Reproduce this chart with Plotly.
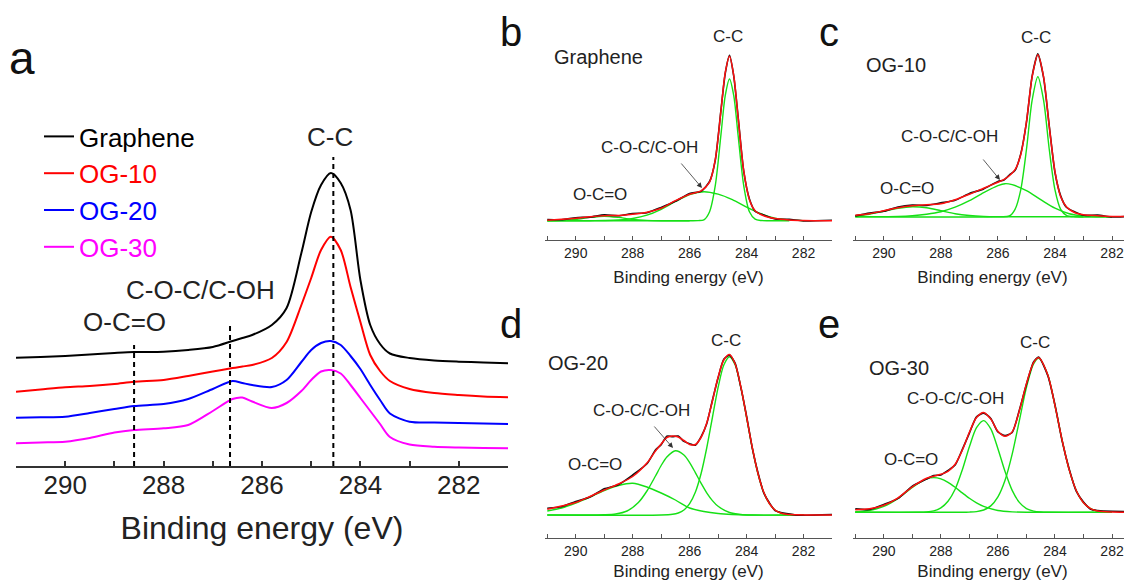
import plotly.graph_objects as go

# The page body has an 8 px margin, so the figure is drawn 8 px smaller and all
# pixel positions below are given in window coordinates and shifted by OFF.
OFF = 8
W, H = 1132 - OFF, 581 - OFF
FONT = "Liberation Sans, Arial, sans-serif"

# ---------------- Panel a: stacked C1s spectra ----------------
x_a = [291, 290.5, 290, 289.5, 289, 288.6, 288, 287.5, 287, 286.6, 286.4, 286.2, 285.8, 285.5,
       285.2, 285.0, 284.8, 284.6, 284.4, 284.2, 284.0, 283.8, 283.6, 283.4, 283.0, 282.5, 282, 281.5, 281]
graphene_a = [108.3, 109, 110, 111.5, 113, 114, 114.3, 116, 119, 125, 128, 131, 141, 158,
              213, 254, 281, 293, 283, 256, 186, 141, 122, 112.5, 108, 105.5, 104.3, 103.5, 102.7]
og10_a = [74.3, 76.5, 78.7, 80, 82, 84.3, 86, 90, 94.5, 98, 99.5, 101, 108, 124,
          161, 188, 216, 229.3, 216, 179, 144, 111, 95, 85, 77, 73, 71, 69.5, 68.7]
og20_a = [48.3, 48.7, 49.3, 53, 57, 60, 62, 67, 77, 85, 83, 81, 79, 86,
          104, 116, 123, 125, 121, 110, 97, 81, 66, 52.5, 44.3, 43.5, 43, 42.5, 42]
og30_a = [22.7, 23.5, 24.3, 28, 33.5, 36, 37.7, 41, 55, 67, 68.5, 64.5, 58, 63,
          75, 86, 94.5, 96, 92.5, 81, 68, 55, 42, 29, 21.5, 19.3, 18.5, 18, 17.7]
series_names = ["Graphene", "OG-10", "OG-20", "OG-30"]
series_colors = ["#000000", "#ff0000", "#0000ff", "#ff00ff"]
peak_positions = [288.6, 286.65, 284.55]
peak_line_tops = [121, 143, 309]
peak_labels = ["O-C=O", "C-O-C/C-OH", "C-C"]

# ---------------- Panel b: Graphene fit ----------------
x_b = [291, 290.5, 290, 289.5, 289, 288.5, 288, 287.5, 287, 286.5, 286, 285.6, 285.3, 285.1,
       284.9, 284.75, 284.6, 284.45, 284.3, 284.1, 283.9, 283.7, 283.4, 283.0, 282.5, 282, 281]
fit_b = [0.5, 1.5, 2.5, 4, 5, 5.3, 6.5, 8.5, 12.5, 20, 26.5, 29.8, 38.5, 61,
         110, 148, 164.5, 145, 104, 50, 21, 10, 5, 2.2, 0.8, 0.3, 0]
raw_b = [1.2, 1.0, 3.0, 3.6, 5.8, 4.9, 7.2, 8.0, 13.3, 19.4, 27.2, 29.3, 39.2, 60.3,
         110.6, 147.2, 165.3, 144.4, 104.7, 49.3, 21.8, 9.5, 5.6, 1.7, 1.3, -0.2, 0.5]
cc_b_x = [291, 286.0, 285.7, 285.5, 285.3, 285.1, 284.9, 284.75, 284.6, 284.45, 284.3, 284.1,
          283.9, 283.7, 283.5, 283.2, 282.5]
cc_b_y = [0, 0, 0.1, 0.8, 9, 35, 86, 125, 141.7, 125, 86, 35, 9, 1.6, 0.2, 0, 0]
coc_b_x = [291, 289.5, 289, 288.5, 288, 287.5, 287, 286.5, 286, 285.5, 285, 284.5, 284, 283.5,
           283, 282.5, 282]
coc_b_y = [0, 0, 0.2, 0.7, 2.2, 5.5, 11.4, 19.2, 26.2, 29, 26.5, 21, 13.5, 7, 2.5, 0.8, 0]
oco_b_x = [291, 290.5, 290, 289.5, 289, 288.5, 288, 287.5, 287, 286]
oco_b_y = [0, 0.3, 1.3, 3.3, 4.5, 3.3, 1.3, 0.3, 0, 0]

# ---------------- Panel c: OG-10 fit ----------------
x_c = [291, 290.5, 290, 289.5, 289, 288.5, 288, 287.5, 287, 286.5, 286, 285.8, 285.6, 285.4,
       285.2, 285.0, 284.8, 284.6, 284.4, 284.2, 284.0, 283.8, 283.6, 283.3, 283.0, 282.5, 282, 281.3]
fit_c = [1.5, 3, 6, 9, 11, 12, 13, 17, 22.5, 28.5, 34.5, 37, 41, 47,
         62, 95, 140, 162, 140, 90, 45, 20, 10, 4, 2, 1, 0.3, 0]
raw_c = [0.8, 3.6, 5.4, 9.7, 11.6, 11.3, 13.8, 16.4, 23.2, 27.8, 35.3, 36.5, 41.7, 46.3,
         62.8, 94.2, 140.6, 162.8, 139.3, 90.7, 44.2, 20.8, 9.4, 4.7, 1.4, 1.6, -0.3, 0.6]
cc_c_x = [291, 286.0, 285.6, 285.4, 285.2, 285.0, 284.8, 284.6, 284.4, 284.2, 284.0, 283.8,
          283.6, 283.3, 282]
cc_c_y = [0, 0, 0.7, 7.4, 26.9, 67.2, 116.6, 140, 116.6, 67.2, 26.9, 7.4, 1.4, 0, 0]
coc_c_x = [291, 289.5, 289, 288.5, 288, 287.5, 287, 286.5, 286, 285.75, 285.5, 285.0, 284.5,
           284.0, 283.5, 283.0, 282.5, 282]
coc_c_y = [0, 0.3, 1, 2.5, 5, 9.5, 16, 24, 31, 33, 32, 26, 17, 8.5, 3, 0.8, 0.2, 0]
oco_c_x = [291, 290.5, 290, 289.5, 289, 288.5, 288, 287.5, 287, 286.5, 286, 283]
oco_c_y = [1, 2.5, 5.5, 8.5, 10, 9, 6, 3, 1.2, 0.3, 0, 0]

# ---------------- Panel d: OG-20 fit ----------------
x_d = [291, 290.5, 290, 289.5, 289, 288.5, 288, 287.5, 287.2, 287.0, 286.8, 286.6, 286.4, 286.2,
       286.0, 285.8, 285.6, 285.4, 285.2, 285.0, 284.8, 284.6, 284.4, 284.2, 284.0, 283.8, 283.6,
       283.4, 283.2, 283.0, 282.8, 282.6, 282.2, 281]
fit_d = [5.7, 9, 12.5, 18.5, 25, 31, 38.5, 52, 64, 71, 77.5, 79, 78, 74.5,
         70.5, 70.5, 77.5, 92, 114, 138, 155, 160.5, 151, 128, 98, 67.5, 41.5,
         23, 11.5, 5, 2, 0.8, 0.3, 0]
raw_d = [6.8, 8.2, 13.5, 18.0, 26.2, 30.3, 40.0, 51.2, 65.0, 70.3, 78.8, 78.4, 78.9, 73.6,
         71.3, 69.8, 78.2, 91.3, 114.8, 137.2, 155.7, 159.9, 151.6, 127.3, 98.8, 66.9, 42.2,
         22.4, 12.2, 4.4, 2.6, 1.4, -0.2, 0.4]
cc_d_x = [291, 287.0, 286.6, 286.4, 286.2, 286.0, 285.8, 285.6, 285.4, 285.2, 285.0, 284.8,
          284.6, 284.4, 284.2, 284.0, 283.8, 283.6, 283.4, 283.2, 283.0, 282.8, 282.6, 282.4, 282]
cc_d_y = [0, 0, 0.7, 2, 5, 11.3, 22.7, 41.2, 67, 97.5, 127.6, 150,
          158.3, 150, 127.6, 97.5, 67, 41.2, 22.7, 11.3, 5, 2, 0.7, 0.2, 0]
coc_d_x = [291, 289.4, 289.0, 288.6, 288.2, 287.8, 287.5, 287.2, 287.0, 286.8, 286.5, 286.2,
           286.0, 285.8, 285.6, 285.4, 285.2, 285.0, 284.6, 284.2, 283.8, 282]
coc_d_y = [0, 0, 0.2, 1, 4, 12.5, 24, 39, 49.5, 58, 64.3, 60,
           52.4, 42.4, 31.9, 22.2, 14.4, 8.7, 2.5, 0.5, 0, 0]
oco_d_x = [291, 290.5, 290, 289.5, 289, 288.5, 288, 287.5, 287, 286.5, 286, 285.5, 285,
           284.5, 284, 282]
oco_d_y = [4, 7, 12, 18, 24.5, 29.5, 31.7, 28, 22, 15, 7, 3.5, 1.5, 0.5, 0, 0]

# ---------------- Panel e: OG-30 fit ----------------
x_e = [291, 290.5, 290, 289.5, 289, 288.5, 288.25, 288, 287.75, 287.5, 287.25, 287.0, 286.75,
       286.5, 286.25, 286.0, 285.75, 285.5, 285.25, 285.0, 284.75, 284.57, 284.25, 284.0,
       283.75, 283.5, 283.25, 283.0, 282.75, 282.5, 282.0, 281.3]
fit_e = [2.5, 3.5, 7, 14.5, 25.5, 34, 36, 38, 41, 48, 62, 80, 94.7,
         99.9, 93.2, 81, 76, 80.4, 101.4, 128.7, 149.7, 154.5, 137.2, 106.7,
         72.2, 42.4, 21.6, 9.6, 3.7, 1.2, 0.2, 0]
raw_e = [3.4, 2.8, 7.8, 13.9, 26.1, 33.2, 36.8, 37.4, 41.9, 47.3, 62.7, 79.2, 95.4,
         99.2, 93.9, 80.3, 76.7, 79.8, 102.1, 128.0, 150.4, 155.3, 136.5, 107.4,
         71.5, 43.1, 20.9, 10.3, 3.1, 1.8, 1.0, 0.8]
cc_e_x = [291, 287.25, 287.0, 286.75, 286.5, 286.25, 286.0, 285.75, 285.5, 285.25, 285.0,
          284.75, 284.57, 284.25, 284.0, 283.75, 283.5, 283.25, 283.0, 282.75, 282.5, 282.0]
cc_e_y = [0, 0, 0.2, 0.7, 2.3, 6.4, 15.4, 32, 58.1, 91.5, 125,
          148.5, 154, 137.2, 106.7, 72.2, 42.4, 21.6, 9.6, 3.7, 1.2, 0.1]
coc_e_x = [291, 288.75, 288.5, 288.25, 288, 287.75, 287.5, 287.25, 287.0, 286.75, 286.5,
           286.25, 286.0, 285.75, 285.5, 285.25, 285.0, 284.75, 284.5, 284.25, 282]
coc_e_y = [0, 0, 0.3, 1.4, 4.4, 11, 23, 42.3, 65.5, 84.6, 91.7,
           83.4, 63.6, 40.7, 21.9, 9.9, 3.7, 1.2, 0.3, 0, 0]
oco_e_x = [291, 290.5, 290, 289.5, 289, 288.5, 288.25, 288, 287.75, 287.5, 287.25, 287.0,
           286.75, 286.5, 286.0, 285.5, 285.0, 282]
oco_e_y = [0.5, 1.8, 5.9, 14, 25, 33.5, 34.7, 33.5, 30, 25, 19.4, 14,
           9.4, 5.9, 1.8, 0.4, 0, 0]

tick_vals = [290, 288, 286, 284, 282]
tick_text = ["290", "288", "286", "284", "282"]
axis_title = "Binding energy (eV)"

# ---------------- helpers (layout only) ----------------
def fx(p):
    return (p - OFF) / W

def fy(p):
    return 1 - (p - OFF) / H

GREEN = "#16e016"
fig = go.Figure()

# panel a traces
for name, col, ys in zip(series_names, series_colors, [graphene_a, og10_a, og20_a, og30_a]):
    fig.add_trace(go.Scatter(
        x=x_a, y=ys, mode="lines", line=dict(color=col, width=2, shape="spline", smoothing=0.8),
        name=f"<span style='color:{col}'>{name}</span>", xaxis="x", yaxis="y", showlegend=True,
        hoverinfo="skip"))

panels = [
    ("x2", "y2", x_b, raw_b, fit_b, [(cc_b_x, cc_b_y), (coc_b_x, coc_b_y), (oco_b_x, oco_b_y)]),
    ("x3", "y3", x_c, raw_c, fit_c, [(cc_c_x, cc_c_y), (coc_c_x, coc_c_y), (oco_c_x, oco_c_y)]),
    ("x4", "y4", x_d, raw_d, fit_d, [(cc_d_x, cc_d_y), (coc_d_x, coc_d_y), (oco_d_x, oco_d_y)]),
    ("x5", "y5", x_e, raw_e, fit_e, [(cc_e_x, cc_e_y), (coc_e_x, coc_e_y), (oco_e_x, oco_e_y)]),
]
for xa, ya, xs, raw, fit, comps in panels:
    for cx, cy in comps:
        fig.add_trace(go.Scatter(x=cx, y=cy, mode="lines", xaxis=xa, yaxis=ya, showlegend=False,
                                 line=dict(color=GREEN, width=1.4, shape="spline", smoothing=0.8),
                                 hoverinfo="skip"))
    fig.add_trace(go.Scatter(x=xs, y=raw, mode="lines", xaxis=xa, yaxis=ya, showlegend=False,
                             line=dict(color="#111111", width=1.6, shape="spline", smoothing=0.6),
                             hoverinfo="skip"))
    fig.add_trace(go.Scatter(x=xs, y=fit, mode="lines", xaxis=xa, yaxis=ya, showlegend=False,
                             line=dict(color="#ff1010", width=1.5, shape="spline", smoothing=0.8),
                             hoverinfo="skip"))

# ---------------- axes ----------------
def xaxis_style(dom, rng, anchor, big, standoff):
    fs = 26 if big else 14
    return dict(domain=dom, range=rng, anchor=anchor, showline=True,
                linecolor="#333" if big else "#555", linewidth=1.5 if big else 1,
                ticks="inside", ticklen=5 if big else 4, tickwidth=1.5 if big else 1,
                tickcolor="#333" if big else "#555",
                tickvals=tick_vals, ticktext=tick_text,
                ticklabelstandoff=-5 if big else 0,
                minor=dict(ticks="inside", ticklen=5 if big else 4, tickwidth=1.5 if big else 1,
                           tickcolor="#333" if big else "#555", dtick=1, tick0=0),
                tickfont=dict(size=fs, color="#222", family=FONT),
                title=dict(text=axis_title, font=dict(size=32 if big else 17, color="#222", family=FONT),
                           standoff=standoff),
                showgrid=False, zeroline=False, automargin=False, fixedrange=True)

def yaxis_style(top_px, bot_px, lo):
    return dict(domain=[fy(bot_px), fy(top_px)], range=[lo, lo + (bot_px - top_px)],
                visible=False, showgrid=False, zeroline=False, fixedrange=True)

layout = dict(
    width=W, height=H, margin=dict(l=0, r=0, t=0, b=0),
    paper_bgcolor="white", plot_bgcolor="white",
    font=dict(family=FONT, color="#222"),
    xaxis=xaxis_style([fx(16), fx(508)], [291, 281], "y", True, 18),
    yaxis=yaxis_style(130, 466, 0),
    xaxis2=xaxis_style([fx(545), fx(832)], [291.08, 281.0], "y2", False, 11),
    yaxis2=yaxis_style(40, 240, -19.3),
    xaxis3=xaxis_style([fx(853), fx(1132)], [291.08, 281.3], "y3", False, 11),
    yaxis3=yaxis_style(40, 240, -23.3),
    xaxis4=xaxis_style([fx(545), fx(832)], [291.08, 281.0], "y4", False, 9),
    yaxis4=yaxis_style(338, 538, -23),
    xaxis5=xaxis_style([fx(853), fx(1132)], [291.08, 281.3], "y5", False, 9),
    yaxis5=yaxis_style(338, 538, -25.7),
    legend=dict(x=fx(39), y=fy(113), xanchor="left", yanchor="top", bgcolor="rgba(0,0,0,0)",
                font=dict(size=26, family=FONT), tracegroupgap=0, itemwidth=30),
    showlegend=True,
)
fig.update_layout(**layout)

# dashed marker lines in panel a
for pos, top in zip(peak_positions, peak_line_tops):
    fig.add_shape(type="line", xref="x", yref="y", x0=pos, x1=pos, y0=0, y1=top,
                  line=dict(color="black", width=2, dash="5px,4px"))

# panel a labels
ann = []
for txt, (px, py) in zip(peak_labels, [(124, 322), (200, 290), (330, 137)]):
    ann.append(dict(text=txt, x=fx(px), y=fy(py), xref="paper", yref="paper", showarrow=False,
                    xanchor="center", yanchor="middle", font=dict(size=26, color="#222")))

# panel letters (top-anchored so their boxes stay inside the figure)
for txt, px, py, fs in [("a", 22, 30, 46), ("b", 511, 8, 40), ("c", 829, 8, 40),
                        ("d", 511, 300, 40), ("e", 829, 300, 40)]:
    ann.append(dict(text=txt, x=fx(px), y=fy(py), xref="paper", yref="paper", showarrow=False,
                    xanchor="center", yanchor="top", font=dict(size=fs, color="#111")))

# sample names in fit panels
for txt, px, py in [("Graphene", 552, 57), ("OG-10", 864, 65), ("OG-20", 546, 363), ("OG-30", 867, 368)]:
    ann.append(dict(text=txt, x=fx(px), y=fy(py), xref="paper", yref="paper", showarrow=False,
                    xanchor="left", yanchor="middle", font=dict(size=20, color="#222")))

# peak labels in fit panels
fit_label_pos = [
    [(600, 194), (649, 147), (728, 37)],
    [(907, 188), (949, 137), (1036, 38)],
    [(595, 464), (641, 410), (726, 340)],
    [(911, 459), (955, 398), (1035, 342)],
]
for poss in fit_label_pos:
    for txt, (px, py) in zip(peak_labels, poss):
        ann.append(dict(text=txt, x=fx(px), y=fy(py), xref="paper", yref="paper", showarrow=False,
                        xanchor="center", yanchor="middle", font=dict(size=17, color="#222")))

# arrows pointing at C-O-C/C-OH shoulders
for (hx, hy), (tx, ty) in [((702, 188), (680, 162)), ((1000, 180), (982, 158)), ((673, 448), (653, 425))]:
    ann.append(dict(text="", x=fx(hx), y=fy(hy), xref="paper", yref="paper", showarrow=True,
                    ax=tx - hx, ay=ty - hy, axref="pixel", ayref="pixel", arrowhead=2,
                    arrowsize=1.3, arrowwidth=0.8, arrowcolor="#333", standoff=0))
fig.update_layout(annotations=ann)

fig.write_html("out.html", include_plotlyjs=True, config={"displayModeBar": False})
